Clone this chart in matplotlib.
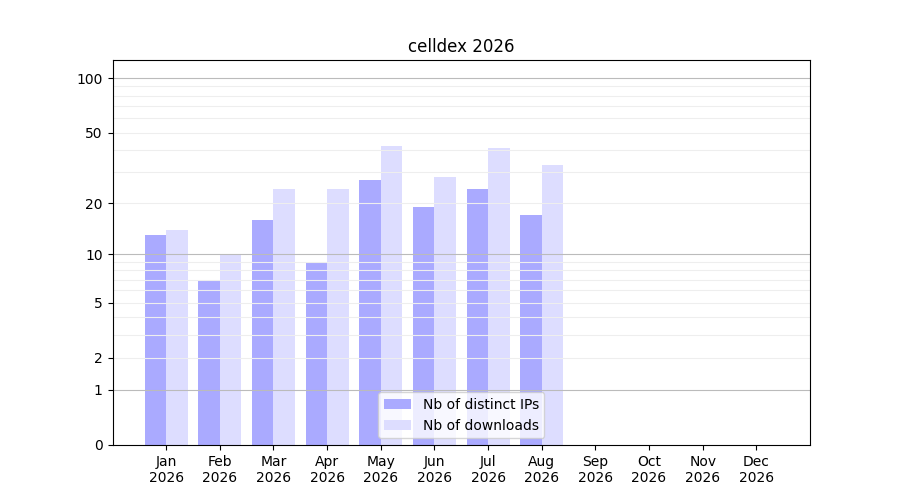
import numpy as np
import matplotlib
matplotlib.use("Agg")
import matplotlib.pyplot as plt
from matplotlib.ticker import FixedLocator, FixedFormatter

months = ["Jan", "Feb", "Mar", "Apr", "May", "Jun",
          "Jul", "Aug", "Sep", "Oct", "Nov", "Dec"]
year = "2026"
distinct_ips = [13, 7, 16, 9, 27, 19, 24, 17]
downloads = [14, 10, 24, 24, 42, 28, 41, 33]

major_ticks = [0, 1, 2, 5, 10, 20, 50, 100]
grid_major = [1, 10, 100]
grid_minor = [2, 3, 4, 5, 6, 7, 8, 9, 20, 30, 40, 50, 60, 70, 80, 90]


def fwd(v):
    return np.log10(1 + np.clip(v, 0, None))


def inv(v):
    return 10 ** v - 1


fig, ax = plt.subplots(figsize=(9, 5), dpi=100)
ax.set_yscale("function", functions=(fwd, inv))

x = np.arange(len(distinct_ips))
ax.bar(x - 0.2, distinct_ips, width=0.4, color="#aaaaff", label="Nb of distinct IPs")
ax.bar(x + 0.2, downloads, width=0.4, color="#ddddff", label="Nb of downloads")

ax.set_xlim(-1, 12)
ax.set_ylim(0, 126)
ax.set_xticks(np.arange(len(months)))
ax.set_xticklabels([m + "\n" + year for m in months])

ax.yaxis.set_major_locator(FixedLocator(major_ticks))
ax.yaxis.set_major_formatter(FixedFormatter([str(t) for t in major_ticks]))
ax.yaxis.set_minor_locator(FixedLocator([]))

# grid lines sit over the bars but under the spines
for g in grid_major:
    ax.axhline(g, color="#bbbbbb", lw=0.8, zorder=2)
for g in grid_minor:
    ax.axhline(g, color="#eeeeee", lw=0.8, zorder=2)

ax.set_title("celldex " + year)
ax.legend(loc="lower center")

fig.savefig("out.png")
